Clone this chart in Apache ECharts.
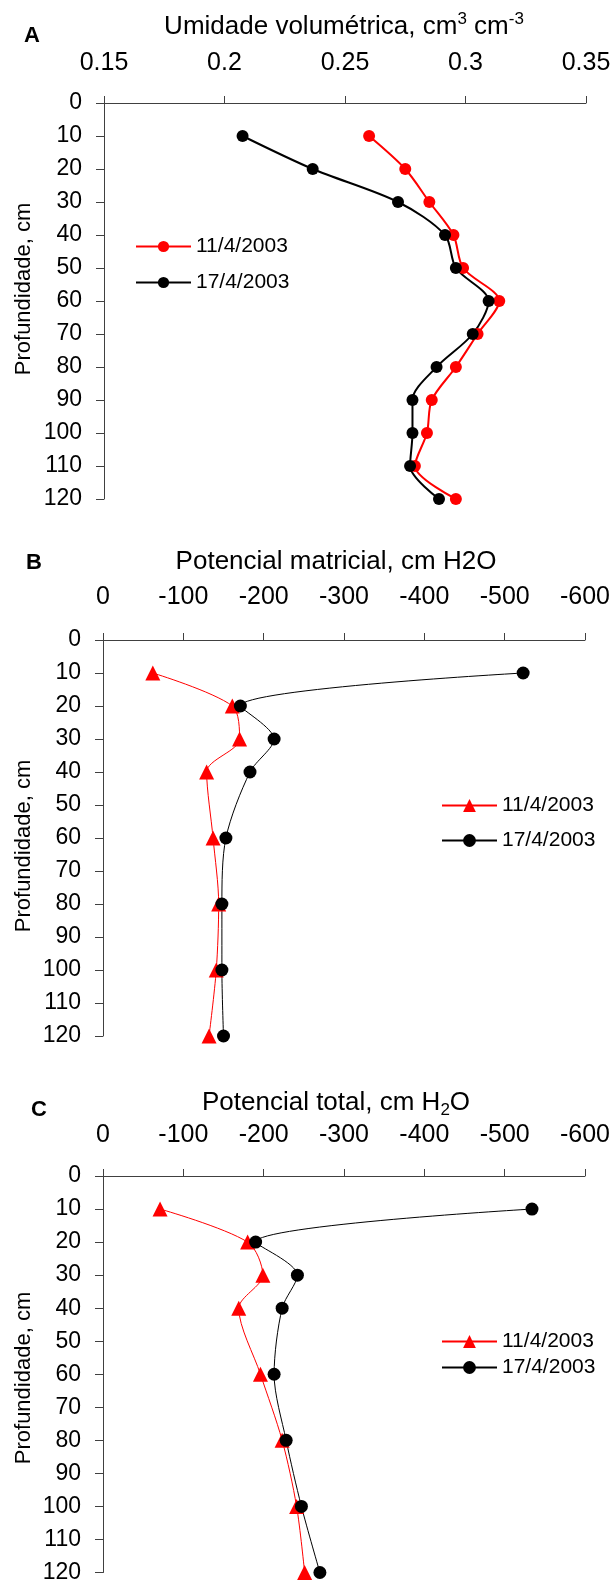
<!DOCTYPE html>
<html><head><meta charset="utf-8">
<script src="https://cdn.jsdelivr.net/npm/echarts@6/dist/echarts.min.js"></script>
<style>html,body{margin:0;padding:0;background:#fff}#c{width:616px;height:1584px}</style>
</head><body><div id="c"></div>
<script>
// ---- data ----
const depthA = [10, 20, 30, 40, 50, 60, 70, 80, 90, 100, 110, 120];
const thetaDay11 = [0.260, 0.275, 0.285, 0.295, 0.299, 0.314, 0.305, 0.296, 0.286, 0.284, 0.279, 0.296];
const thetaDay17 = [0.2075, 0.2366, 0.272, 0.2915, 0.296, 0.3096, 0.303, 0.288, 0.278, 0.278, 0.277, 0.289];

const depthBC = [10, 20, 30, 40, 60, 80, 100, 120];
const matricDay11 = [-62, -161, -170, -129, -137, -144, -141, -132];
const matricDay17 = [-523, -171, -213, -183, -153, -148, -148, -150];
const totalDay11 = [-71, -180, -199, -169, -196, -223, -241, -251];
const totalDay17 = [-534, -190, -242, -223, -213, -228, -247, -270];

const dates = ['11/4/2003', '17/4/2003'];
const panelLetters = ['A', 'B', 'C'];

// ---- styles ----
const FONT = '"Liberation Sans", Arial, sans-serif';
const RED = '#ff0000', BLACK = '#000000', AXIS = '#404040';

function pairs(xs, ys) { return xs.map((x, i) => [x, ys[i]]); }

const grids = [
  { left: 104, top: 103, width: 482, height: 396 },
  { left: 103, top: 640, width: 482, height: 396 },
  { left: 103, top: 1176, width: 482, height: 399 }
];

function xAxisBase(i, extra) {
  return Object.assign({
    gridIndex: i, type: 'value', position: 'top',
    axisLine: { show: true, onZero: false, lineStyle: { color: AXIS, width: 1 } },
    axisTick: { show: true, inside: false, length: 7, lineStyle: { color: AXIS } },
    axisLabel: { fontSize: 25, color: '#000', margin: 28, fontFamily: FONT },
    splitLine: { show: false }
  }, extra);
}
function yAxisBase(i) {
  return {
    gridIndex: i, type: 'value', min: 0, max: 120, interval: 10, inverse: true,
    axisLine: { show: true, onZero: false, lineStyle: { color: AXIS, width: 1 } },
    axisTick: { show: true, inside: false, length: 8, lineStyle: { color: AXIS } },
    axisLabel: { fontSize: 23, color: '#000', margin: 22, fontFamily: FONT },
    splitLine: { show: false }
  };
}

const xAxes = [
  xAxisBase(0, { min: 0.15, max: 0.35, interval: 0.05,
    axisLabel: { fontSize: 25, color: '#000', margin: 27, fontFamily: FONT,
      formatter: v => String(+v.toFixed(2)) } }),
  xAxisBase(1, { min: -600, max: 0, interval: 100, inverse: true,
    axisLabel: { fontSize: 25, color: '#000', margin: 30, fontFamily: FONT } }),
  xAxisBase(2, { min: -600, max: 0, interval: 100, inverse: true,
    axisLabel: { fontSize: 25, color: '#000', margin: 28, fontFamily: FONT } })
];
const yAxes = [yAxisBase(0), yAxisBase(1), yAxisBase(2)];

function lineSeries(name, idx, data, color, symbol, size, width) {
  return {
    name: name, type: 'line', xAxisIndex: idx, yAxisIndex: idx,
    data: data, smooth: 0.3, symbol: symbol, symbolSize: size,
    lineStyle: { color: color, width: width },
    itemStyle: { color: color }, clip: false, animation: false
  };
}

const series = [
  lineSeries(dates[0], 0, pairs(thetaDay11, depthA), RED, 'circle', 12, 2),
  lineSeries(dates[1], 0, pairs(thetaDay17, depthA), BLACK, 'circle', 12, 2),
  lineSeries(dates[0] + ' ', 1, pairs(matricDay11, depthBC), RED, 'triangle', 15, 1),
  lineSeries(dates[1] + ' ', 1, pairs(matricDay17, depthBC), BLACK, 'circle', 13, 1),
  lineSeries(dates[0] + '  ', 2, pairs(totalDay11, depthBC), RED, 'triangle', 15, 1),
  lineSeries(dates[1] + '  ', 2, pairs(totalDay17, depthBC), BLACK, 'circle', 13, 1)
];

function legendAt(names, left, top, gap, ih) {
  return {
    data: names, orient: 'vertical', left: left, top: top, itemGap: gap,
    itemWidth: 55, itemHeight: ih, padding: 0, selectedMode: false,
    textStyle: { fontSize: 21, color: '#000', fontFamily: FONT },
    formatter: n => n.trim()
  };
}
const legends = [
  legendAt(dates, 135, 236, 15, 14),
  legendAt(dates.map(d => d + ' '), 441, 795, 14, 16),
  legendAt(dates.map(d => d + '  '), 441, 1331, 5, 16)
];

const rich = {
  n: { fontSize: 26, lineHeight: 32, fontFamily: FONT, color: '#000' },
  sup: { fontSize: 17, lineHeight: 20, verticalAlign: 'top', fontFamily: FONT, color: '#000' },
  sub: { fontSize: 17, lineHeight: 20, verticalAlign: 'bottom', fontFamily: FONT, color: '#000' }
};
function titleText(x, y, text) {
  return { type: 'text', x: x, y: y, style: { text: text, rich: rich, align: 'center', verticalAlign: 'middle' } };
}
function yTitle(x, y) {
  return { type: 'text', x: x, y: y, rotation: Math.PI / 2,
    style: { text: 'Profundidade, cm', fontSize: 22, fontFamily: FONT, fill: '#000', align: 'center', verticalAlign: 'middle' } };
}
function letter(x, y, t) {
  return { type: 'text', x: x, y: y,
    style: { text: t, fontSize: 22, fontWeight: 'bold', fontFamily: FONT, fill: '#000', align: 'left', verticalAlign: 'middle' } };
}

const graphics = [
  letter(24, 36, panelLetters[0]),
  letter(26, 563, panelLetters[1]),
  letter(31, 1110, panelLetters[2]),
  titleText(344, 27, '{n|Umidade volumétrica, cm}{sup|3}{n| cm}{sup|-3}'),
  titleText(336, 562, '{n|Potencial matricial, cm H2O}'),
  titleText(336, 1103, '{n|Potencial total, cm H}{sub|2}{n|O}'),
  yTitle(24, 289),
  yTitle(24, 846),
  yTitle(24, 1378)
];

const chart = echarts.init(document.getElementById('c'), null, { renderer: 'canvas' });
chart.setOption({
  animation: false,
  backgroundColor: '#fff',
  textStyle: { fontFamily: FONT },
  grid: grids,
  xAxis: xAxes,
  yAxis: yAxes,
  legend: legends,
  series: series,
  graphic: graphics
});
</script>
</body></html>
